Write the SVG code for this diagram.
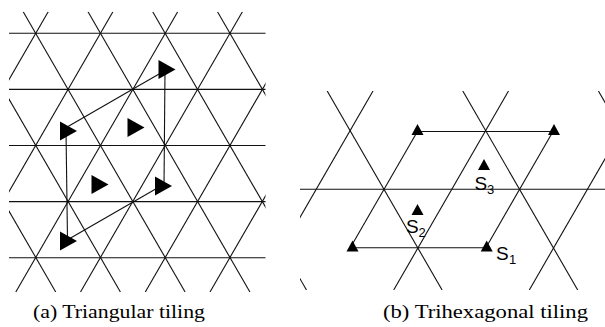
<svg xmlns="http://www.w3.org/2000/svg" xmlns:xlink="http://www.w3.org/1999/xlink" width="605" height="327" viewBox="0 0 605 327">
<style>
.grid{stroke:#111;stroke-width:1.1;fill:none}
.conn{stroke:#111;stroke-width:1.1;fill:none}
.lbl{font-family:"Liberation Sans",Arial,sans-serif;fill:#000}
.cap{font-family:"Liberation Serif","Times New Roman",serif;font-size:18px;fill:#000}
</style>
<defs>
<clipPath id="clipA"><rect x="9" y="11.7" width="256.5" height="280.5"/></clipPath>
<clipPath id="clipB"><rect x="300" y="91" width="305" height="199"/></clipPath>
<path id="triR" d="M0,-9.5 L17,0 L0,9.5Z" fill="#000"/>
<path id="triU" d="M-6,0 L6,0 L0,-11Z" fill="#000"/>
</defs>
<rect width="605" height="327" fill="#fff"/>

<!-- Panel (a): triangular tiling -->
<g id="tilingA" clip-path="url(#clipA)" class="grid">
<line x1="0" y1="33.3" x2="280" y2="33.3"/>
<line x1="0" y1="89.4" x2="280" y2="89.4"/>
<line x1="0" y1="145.5" x2="280" y2="145.5"/>
<line x1="0" y1="201.6" x2="280" y2="201.6"/>
<line x1="0" y1="257.7" x2="280" y2="257.7"/>
<!-- "\" lines -->
<line x1="-171.0" y1="11.7" x2="-9.1" y2="292"/>
<line x1="-106.2" y1="11.7" x2="55.7" y2="292"/>
<line x1="-41.5" y1="11.7" x2="120.4" y2="292"/>
<line x1="23.2" y1="11.7" x2="185.1" y2="292"/>
<line x1="88.0" y1="11.7" x2="249.9" y2="292"/>
<line x1="152.7" y1="11.7" x2="314.6" y2="292"/>
<line x1="217.5" y1="11.7" x2="379.4" y2="292"/>
<line x1="282.2" y1="11.7" x2="444.1" y2="292"/>
<!-- "/" lines -->
<line x1="48.2" y1="11.7" x2="-113.7" y2="292"/>
<line x1="112.9" y1="11.7" x2="-49.0" y2="292"/>
<line x1="177.7" y1="11.7" x2="15.8" y2="292"/>
<line x1="242.4" y1="11.7" x2="80.5" y2="292"/>
<line x1="307.2" y1="11.7" x2="145.3" y2="292"/>
<line x1="371.9" y1="11.7" x2="210.0" y2="292"/>
<line x1="436.7" y1="11.7" x2="274.8" y2="292"/>
</g>

<g id="connectorsA" class="conn">
<line x1="68" y1="126.5" x2="166" y2="70"/>
<line x1="66" y1="131" x2="67.5" y2="240"/>
<line x1="165" y1="70" x2="164" y2="186"/>
<line x1="68" y1="239.5" x2="160" y2="186.5"/>
</g>
<g id="headsA">
<use xlink:href="#triR" transform="translate(158.5,69.5)"/>
<use xlink:href="#triR" transform="translate(60,131)"/>
<use xlink:href="#triR" transform="translate(127.5,127.5)"/>
<use xlink:href="#triR" transform="translate(91.5,184.5)"/>
<use xlink:href="#triR" transform="translate(155,186)"/>
<use xlink:href="#triR" transform="translate(60,241)"/>
</g>

<!-- Panel (b): trihexagonal tiling -->
<g id="tilingB" clip-path="url(#clipB)" class="grid">
<line x1="300" y1="189.3" x2="605" y2="189.3"/>
<line x1="191.6" y1="91" x2="306.5" y2="290"/>
<line x1="327.2" y1="91" x2="442.1" y2="290"/>
<line x1="462.8" y1="91" x2="577.7" y2="290"/>
<line x1="598.4" y1="91" x2="713.3" y2="290"/>
<line x1="373.0" y1="91" x2="258.1" y2="290"/>
<line x1="508.5" y1="91" x2="393.7" y2="290"/>
<line x1="644.1" y1="91" x2="529.3" y2="290"/>
</g>

<g id="connectorsB" class="conn">
<line x1="417.4" y1="131.5" x2="553" y2="131.5"/>
<line x1="350.3" y1="247.7" x2="485.9" y2="247.7"/>
<line x1="417.4" y1="131.5" x2="350.3" y2="247.7"/>
<line x1="553" y1="131.5" x2="485.9" y2="247.7"/>
</g>
<g id="headsB">
<use xlink:href="#triU" transform="translate(417.5,135)"/>
<use xlink:href="#triU" transform="translate(554,135)"/>
<use xlink:href="#triU" transform="translate(352.5,251.5)"/>
<use xlink:href="#triU" transform="translate(486.7,251.5)"/>
<use xlink:href="#triU" transform="translate(417.5,215)"/>
<use xlink:href="#triU" transform="translate(484,170)"/>
</g>

<g id="labelS1"><text class="lbl" x="496" y="260" font-size="19">S<tspan x="509" y="264" font-size="13">1</tspan></text></g>
<g id="labelS2"><text class="lbl" x="406" y="233" font-size="19">S<tspan x="418.5" y="237" font-size="13">2</tspan></text></g>
<g id="labelS3"><text class="lbl" x="474.5" y="190" font-size="19">S<tspan x="487" y="194" font-size="13">3</tspan></text></g>

<g id="captions">
<text class="cap" x="33" y="318" textLength="172" lengthAdjust="spacingAndGlyphs">(a) Triangular tiling</text>
<text class="cap" x="383" y="318" textLength="205" lengthAdjust="spacingAndGlyphs">(b) Trihexagonal tiling</text>
</g>
</svg>
